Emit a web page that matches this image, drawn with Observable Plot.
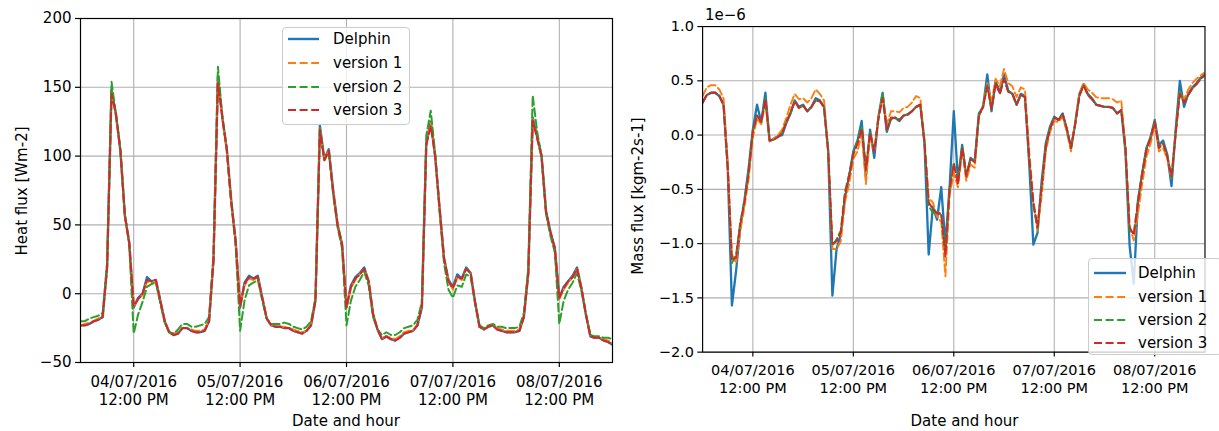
<!DOCTYPE html>
<html><head><meta charset="utf-8">
<script src="https://cdn.jsdelivr.net/npm/d3@7"></script>
<script src="https://cdn.jsdelivr.net/npm/@observablehq/plot@0.6"></script>
<style>
html,body{margin:0;padding:0;background:#fff;}
body{width:1219px;height:431px;overflow:hidden;position:relative;font-family:"DejaVu Sans",sans-serif;font-size:15px;color:#000;}
.chart{position:absolute;top:0;}
.lbl{position:absolute;white-space:nowrap;line-height:1;transform:translate(-50%,-50%);}
.ylbl{transform:translate(-50%,-50%) rotate(-90deg);}
.legend{position:absolute;background:rgba(255,255,255,0.8);border:1px solid #cccccc;border-radius:4px;box-sizing:border-box;z-index:5;}
.row{position:absolute;left:0;height:20px;display:flex;align-items:center;white-space:nowrap;}
.row svg{display:block;}
</style></head>
<body>
<div id="left" class="chart" style="left:0"></div>
<div id="right" class="chart" style="left:620px"></div>
<script>
// ---------- data (hourly samples, 04/07/2016 00:00 -> 09/07/2016 00:00) ----------
const seriesNames = ["Delphin", "version 1", "version 2", "version 3"];
const seriesColors = ["#1f77b4", "#ff7f0e", "#2ca02c", "#d62728"];
const tickLabels = ["04/07/2016\n12:00 PM", "05/07/2016\n12:00 PM", "06/07/2016\n12:00 PM", "07/07/2016\n12:00 PM", "08/07/2016\n12:00 PM"];
const tickDays = [4, 5, 6, 7, 8];
const heatTicks = [-50, 0, 50, 100, 150, 200];
const massTicks = [-2.0, -1.5, -1.0, -0.5, 0.0, 0.5, 1.0];

// Heat flux [Wm-2]
const heatDelphin = [
 -23,-23,-22,-20,-19,-17, 20,148,130,104,57,37, -10,-3,0,12,9,10, -5,-20,-28,-30,-29,-25,
 -25,-27,-28,-28,-27,-20, 25,158,128,105,68,38, -10,8,13,11,13,-3, -18,-23,-24,-24,-25,-25,
 -27,-28,-29,-27,-23,-5, 122,98,105,75,50,36, -10,6,12,15,19,9, -15,-26,-33,-31,-33,-34,
 -32,-29,-28,-27,-23,-10, 110,125,100,62,26,10, 5,14,11,19,15,-6, -24,-26,-24,-23,-26,-27,
 -28,-28,-28,-27,-17,15, 128,114,100,60,45,33, -3,5,9,13,19,4, -15,-31,-32,-32,-34,-35,-37];
const heatV1 = [
 -23,-22,-21,-20,-18,-16, 19,147,129,104,57,36, -9,-4,-1,9,8,9, -5,-20,-28,-29,-28,-25,
 -25,-26,-27,-27,-26,-19, 24,156,127,104,67,37, -9,6,11,10,12,-3, -18,-23,-23,-24,-24,-25,
 -26,-27,-28,-27,-22,-4, 120,97,104,74,50,35, -9,4,10,14,18,9, -15,-26,-32,-31,-32,-33,
 -31,-28,-27,-27,-22,-9, 108,124,100,61,25,9, 3,12,10,18,15,-6, -24,-26,-24,-23,-25,-26,
 -27,-27,-27,-26,-16,15, 127,113,99,59,44,32, -4,3,8,12,18,4, -15,-30,-32,-32,-33,-34,-36];
const heatV2 = [
 -20,-20,-18,-17,-16,-14, 22,154,130,105,58,35, -29,-15,-6,5,7,8, -7,-21,-28,-29,-26,-22,
 -22,-24,-24,-23,-22,-17, 28,165,128,105,66,35, -27,-5,6,8,10,-5, -18,-22,-22,-22,-21,-22,
 -24,-25,-26,-24,-20,-3, 120,97,103,72,48,33, -23,-5,5,10,16,6, -17,-26,-30,-28,-30,-30,
 -28,-25,-24,-23,-19,-6, 115,133,102,60,22,3, -3,6,5,14,12,-7, -23,-25,-23,-22,-24,-24,
 -25,-25,-25,-24,-14,18, 144,118,100,58,42,30, -22,-5,3,8,15,2, -15,-30,-31,-31,-32,-32,-33];
const heatV3 = [
 -23,-23,-22,-20,-19,-17, 19,145,131,104,57,37, -9,-4,0,10,9,10, -5,-20,-28,-30,-29,-25,
 -25,-27,-28,-28,-27,-20, 24,153,128,105,67,38, -9,7,12,11,12,-3, -18,-23,-24,-24,-25,-25,
 -27,-28,-29,-27,-23,-5, 119,97,104,74,50,36, -10,5,11,14,18,9, -15,-26,-33,-31,-33,-34,
 -32,-29,-28,-27,-23,-10, 108,122,100,62,26,9, 4,12,11,18,15,-6, -24,-26,-24,-23,-26,-27,
 -28,-28,-28,-27,-17,14, 126,113,100,60,45,33, -3,4,9,12,18,4, -15,-31,-32,-32,-34,-35,-37];

// Mass flux [kgm-2s-1], in units of 1e-6
const massDelphin = [
 0.30,0.37,0.39,0.39,0.36,0.28, -0.30,-1.57,-1.25,-0.85,-0.60,-0.30, 0.05,0.28,0.12,0.39,-0.05,-0.04, -0.01,0.00,0.11,0.20,0.32,0.26,
 0.28,0.22,0.26,0.34,0.32,0.26, -0.15,-1.48,-1.05,-0.92,-0.58,-0.38, -0.15,-0.05,0.13,-0.38,0.05,-0.21, 0.17,0.39,0.03,0.15,0.16,0.13,
 0.18,0.19,0.22,0.26,0.28,-0.07, -1.10,-0.66,-0.78,-0.48,-1.01,-0.48, 0.22,-0.42,-0.09,-0.39,-0.21,-0.24, 0.20,0.26,0.56,0.22,0.50,0.39,
 0.56,0.41,0.38,0.28,0.38,0.36, -0.25,-1.01,-0.90,-0.42,-0.07,0.08, 0.17,0.14,0.20,0.05,-0.12,0.11, 0.38,0.47,0.38,0.34,0.28,0.27,
 0.26,0.26,0.25,0.20,0.23,-0.15, -1.02,-1.37,-0.60,-0.35,-0.12,-0.02, 0.14,-0.09,-0.05,-0.18,-0.47,0.05, 0.50,0.26,0.38,0.44,0.48,0.53,0.56];
const massV1 = [
 0.36,0.44,0.46,0.46,0.42,0.34, -0.25,-1.10,-1.18,-0.88,-0.66,-0.40, -0.02,0.15,0.10,0.30,-0.06,-0.03, 0.00,0.05,0.16,0.28,0.38,0.33,
 0.34,0.30,0.34,0.42,0.38,0.32, -0.15,-1.05,-1.05,-0.98,-0.62,-0.45, -0.22,-0.15,0.02,-0.45,0.00,-0.15, 0.18,0.35,0.10,0.22,0.22,0.21,
 0.25,0.26,0.30,0.36,0.34,-0.05, -0.58,-0.62,-0.75,-0.80,-1.30,-0.55, -0.35,-0.48,-0.14,-0.42,-0.27,-0.30, 0.17,0.28,0.48,0.30,0.52,0.45,
 0.61,0.48,0.45,0.35,0.44,0.42, -0.15,-0.60,-0.88,-0.55,-0.14,0.03, 0.13,0.12,0.17,0.03,-0.15,0.12, 0.38,0.48,0.42,0.39,0.35,0.34,
 0.34,0.34,0.33,0.30,0.32,-0.10, -0.85,-0.97,-0.72,-0.45,-0.20,-0.08, 0.10,-0.15,-0.12,-0.22,-0.40,0.00, 0.40,0.33,0.42,0.48,0.52,0.55,0.58];
const massV2 = [
 0.30,0.37,0.39,0.39,0.36,0.28, -0.30,-1.18,-1.10,-0.80,-0.60,-0.33, 0.04,0.18,0.12,0.34,-0.05,-0.04, -0.02,0.02,0.12,0.20,0.31,0.25,
 0.27,0.22,0.26,0.32,0.31,0.26, -0.15,-1.02,-0.96,-0.88,-0.52,-0.36, -0.16,-0.06,0.08,-0.30,0.03,-0.15, 0.16,0.39,0.04,0.16,0.16,0.14,
 0.18,0.19,0.22,0.26,0.28,-0.07, -0.65,-0.72,-0.70,-0.74,-1.08,-0.48, -0.25,-0.43,-0.10,-0.36,-0.22,-0.24, 0.18,0.26,0.46,0.23,0.48,0.38,
 0.52,0.40,0.38,0.28,0.37,0.35, -0.22,-0.65,-0.86,-0.46,-0.09,0.06, 0.16,0.14,0.19,0.06,-0.12,0.10, 0.36,0.46,0.37,0.33,0.28,0.27,
 0.26,0.26,0.25,0.20,0.23,-0.12, -0.88,-0.90,-0.60,-0.35,-0.13,-0.02, 0.13,-0.11,-0.07,-0.19,-0.40,0.02, 0.40,0.30,0.37,0.43,0.47,0.52,0.55];
const massV3 = [
 0.30,0.37,0.39,0.39,0.36,0.28, -0.30,-1.15,-1.13,-0.82,-0.62,-0.35, 0.03,0.18,0.12,0.33,-0.05,-0.04, -0.02,0.02,0.12,0.21,0.31,0.25,
 0.27,0.22,0.26,0.32,0.31,0.26, -0.15,-1.00,-0.98,-0.90,-0.55,-0.38, -0.18,-0.08,0.06,-0.32,0.02,-0.15, 0.15,0.34,0.05,0.16,0.16,0.14,
 0.18,0.19,0.22,0.26,0.28,-0.07, -0.62,-0.68,-0.72,-0.72,-1.12,-0.50, -0.27,-0.45,-0.12,-0.38,-0.22,-0.25, 0.18,0.26,0.45,0.24,0.48,0.38,
 0.52,0.40,0.38,0.28,0.37,0.35, -0.20,-0.62,-0.85,-0.48,-0.10,0.06, 0.16,0.14,0.19,0.06,-0.12,0.10, 0.36,0.46,0.37,0.33,0.28,0.27,
 0.26,0.26,0.25,0.20,0.23,-0.12, -0.85,-0.92,-0.62,-0.36,-0.14,-0.03, 0.12,-0.12,-0.08,-0.20,-0.38,0.02, 0.38,0.30,0.37,0.43,0.47,0.52,0.55];

// ---------- build ----------
const T0 = Date.UTC(2016, 6, 4, 0);
const times = heatDelphin.map((_, i) => new Date(T0 + i * 3600e3));
const xDomain = [new Date(T0), new Date(Date.UTC(2016, 6, 9, 0))];
const tickDates = tickDays.map(d => new Date(Date.UTC(2016, 6, d, 12)));
const tickLabelOf = d => tickLabels[tickDates.findIndex(t => +t === +d)];
const minus = s => s.replace("-", "\u2212");
const styles = [
  {width: 2.4, dash: null},
  {width: 2.0, dash: "8,3.6"},
  {width: 2.0, dash: "8,3.6"},
  {width: 2.0, dash: "8,3.6"}
];

function panel(values, yDomain, yTicks, yFmt, m, width) {
  const lines = values.map((vals, k) =>
    Plot.line(times.map((t, i) => ({t, v: vals[i]})), {
      x: "t", y: "v", stroke: seriesColors[k], strokeWidth: styles[k].width,
      strokeDasharray: styles[k].dash, clip: true, strokeLinejoin: "round"
    }));
  return Plot.plot({
    width, height: 431,
    marginTop: m.t, marginBottom: m.b, marginLeft: m.l, marginRight: m.r,
    x: {type: "utc", domain: xDomain},
    y: {domain: yDomain},
    style: {fontFamily: "DejaVu Sans", fontSize: "15px", color: "black", background: "transparent", overflow: "visible"},
    marks: [
      Plot.gridX(tickDates, {stroke: "#b0b0b0", strokeOpacity: 1, strokeWidth: 1.1}),
      Plot.gridY(yTicks, {stroke: "#b0b0b0", strokeOpacity: 1, strokeWidth: 1.1}),
      ...lines,
      Plot.frame({stroke: "black", strokeWidth: 1.2}),
      Plot.axisX(tickDates, {tickFormat: tickLabelOf, tickSize: 5, tickPadding: 6, lineHeight: 1.22, label: null, strokeWidth: 1.2}),
      Plot.axisY(yTicks, {tickFormat: yFmt, tickSize: 5, tickPadding: 4, label: null, strokeWidth: 1.2})
    ]
  });
}

document.getElementById("left").append(
  panel([heatDelphin, heatV1, heatV2, heatV3], [-50, 200], heatTicks, d => minus(String(d)),
        {t: 18, b: 69, l: 80, r: 8}, 620));
document.getElementById("right").append(
  panel([massDelphin, massV1, massV2, massV3], [-2, 1], massTicks, d => minus(d.toFixed(1)),
        {t: 27, b: 67, l: 85, r: 15}, 620));

function addLabel(text, x, y, rotate) {
  const d = document.createElement("div");
  d.className = "lbl" + (rotate ? " ylbl" : "");
  d.style.left = x + "px"; d.style.top = y + "px";
  d.textContent = text;
  document.body.append(d);
}
addLabel("Heat flux [Wm-2]", 22, 190.5, true);
addLabel("Mass flux [kgm-2s-1]", 638, 196, true);
addLabel("Date and hour", 346, 421, false);
addLabel("Date and hour", 964.5, 421, false);
const off = document.createElement("div");
off.style.cssText = "position:absolute;left:705px;top:8px;line-height:1;white-space:nowrap;";
off.textContent = "1e\u22126";
document.body.append(off);

function addLegend(left, top, width, height, firstRow, rowGap, sampleX0, sampleX1, textX) {
  const box = document.createElement("div");
  box.className = "legend";
  Object.assign(box.style, {left: left + "px", top: top + "px", width: width + "px", height: height + "px"});
  seriesNames.forEach((name, k) => {
    const row = document.createElement("div");
    row.className = "row";
    row.style.top = (firstRow + k * rowGap - 10) + "px";
    const w = sampleX1 - sampleX0;
    const svg = `<svg width="${w}" height="6" style="margin-left:${sampleX0}px"><line x1="0" y1="3" x2="${w}" y2="3" stroke="${seriesColors[k]}" stroke-width="${styles[k].width}" ${styles[k].dash ? `stroke-dasharray="${styles[k].dash}"` : ""}/></svg>`;
    row.innerHTML = svg + `<span style="margin-left:${textX - sampleX1}px">${name}</span>`;
    box.append(row);
  });
  document.body.append(box);
}
addLegend(282, 27, 128, 98, 11.3, 23.67, 5, 36, 50);
addLegend(1088, 258, 134, 97, 14.3, 23.3, 5, 37, 49);
</script>
</body></html>
